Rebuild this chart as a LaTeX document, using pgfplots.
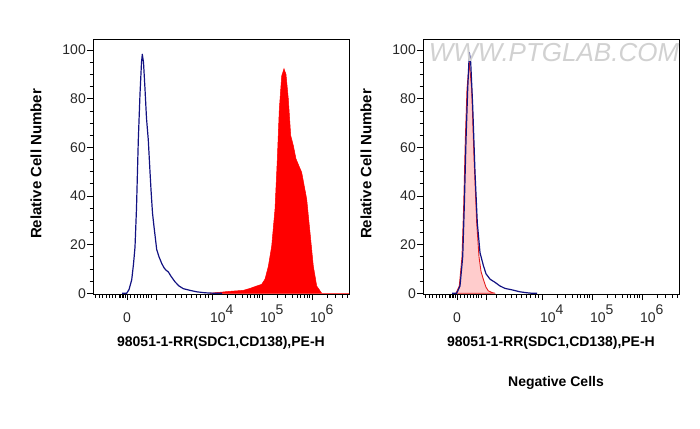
\documentclass[border=0pt]{standalone}
\usepackage{fontspec}
\setmainfont{Liberation Sans}
\usepackage{pgfplots}
\pgfplotsset{compat=1.18}
\definecolor{navyline}{RGB}{18,18,130}
\definecolor{pinkfill}{RGB}{255,204,204}
\definecolor{redline}{RGB}{228,30,30}
\definecolor{ticktext}{RGB}{40,40,40}

% x runs on a display scale: 10^4 at 4, 10^5 at 5, 10^6 at 6, "0" at 2.3
\pgfplotsset{flow/.style={
  width=256pt, height=255pt, scale only axis,
  xmin=1.62, xmax=6.74, ymin=-0.3, ymax=104.6,
  /pgf/number format/assume math mode=true,
  axis line style={line width=0.9pt},
  tick align=outside,
  tick style={line width=0.9pt, black},
  major tick length=6pt, minor tick length=3.5pt,
  xtick={2.3,2.89,4,5,6},
  xticklabels={0,,{\rlap{\hspace{-2pt}10\raisebox{8pt}{4}}},{\rlap{\hspace{-2pt}10\raisebox{8pt}{5}}},{\rlap{\hspace{-2pt}10\raisebox{8pt}{6}}}},
  minor xtick={1.66,1.74,1.814,1.88,1.94,2.0,2.06,2.14,2.17,2.2,2.23,2.26,
    2.36,2.446,2.514,2.574,2.626,2.68,2.726,2.78,
    3.094,3.26,3.394,3.494,3.594,3.68,3.76,3.86,3.926,
    4.301,4.477,4.602,4.699,4.778,4.845,4.903,4.954,
    5.301,5.477,5.602,5.699,5.778,5.845,5.903,5.954,
    6.301,6.477,6.602,6.699},
  ytick={0,20,40,60,80,100}, minor y tick num=3,
  xtick pos=bottom, ytick pos=left,
  xticklabel style={font=\fontsize{14}{14}\selectfont, text=ticktext, text height=10pt, text depth=0pt, inner sep=0pt, yshift=-12pt},
  yticklabel style={font=\fontsize{14}{14}\selectfont, text=ticktext, inner sep=1pt},
  xlabel={98051-1-RR(SDC1,CD138),PE-H},
  ylabel={Relative Cell Number},
  xlabel style={font=\bfseries\fontsize{14}{16}\selectfont, at={(axis description cs:0.5,-0.192)}, anchor=center},
  ylabel style={font=\bfseries\fontsize{15}{17}\selectfont, at={(axis description cs:-0.223,0.51)}, anchor=center},
}}

\begin{document}
\begin{tikzpicture}
\useasboundingbox (0,0) rectangle (700pt,428pt);

% left panel: stained (red) vs. control (blue)
\begin{axis}[flow, at={(93pt,134pt)}, anchor=south west]
\addplot[fill=red, draw=red, line width=0.5pt] coordinates {
(3.96,0) (4.1,0.3) (4.36,0.8) (4.626,1.2) (4.76,2) (4.894,3) (4.994,3.7)
(5.06,5.8) (5.126,11) (5.194,19.4) (5.26,34.6) (5.306,55) (5.346,75.7)
(5.394,89.4) (5.44,92.4) (5.48,90) (5.526,80) (5.574,64.9) (5.626,60.8)
(5.68,55.3) (5.726,53) (5.794,49.7) (5.894,38.7) (5.96,25) (6.026,11.2)
(6.094,3) (6.194,0) (6.74,0)} \closedcycle;
\addplot[draw=navyline, line width=1.2pt, line join=round] coordinates {
(2.2,0) (2.294,0) (2.34,1.5) (2.394,5.5) (2.43,12) (2.46,19) (2.49,35)
(2.526,63) (2.56,82) (2.59,95) (2.606,98.3) (2.63,95) (2.66,84) (2.69,72)
(2.726,63) (2.76,50) (2.78,42.6) (2.81,33) (2.84,27.4) (2.894,18) (2.94,15)
(2.994,12.3) (3.04,10.5) (3.08,9.5) (3.126,8.8) (3.18,7) (3.26,4.7) (3.34,3)
(3.426,1.9) (3.56,1.2) (3.694,0.6) (3.86,0.2) (4.06,0) (4.2,0)};
\end{axis}

% right panel: negative cells
\begin{axis}[flow, at={(423pt,134pt)}, anchor=south west]
\addplot[fill=pinkfill, draw=redline, line width=0.9pt, line join=round] coordinates {
(2.28,0) (2.346,3) (2.4,15) (2.434,36) (2.466,63) (2.5,84) (2.546,95)
(2.594,84) (2.64,56) (2.694,29) (2.74,15) (2.78,9) (2.826,5.8) (2.88,2.5)
(2.926,1) (3.0,0.3) (3.06,0)} \closedcycle;
\addplot[draw=navyline, line width=1.2pt, line join=round] coordinates {
(2.2,0) (2.294,0) (2.36,3) (2.414,15) (2.446,35.8) (2.48,63) (2.514,84)
(2.546,99) (2.574,95) (2.614,77) (2.66,49.8) (2.706,29) (2.76,16.7)
(2.826,11.5) (2.88,8) (2.96,5.8) (3.06,4.5) (3.16,3) (3.26,2) (3.40,1.4)
(3.56,0.6) (3.70,0.2) (3.80,0) (3.9,0)};
\end{axis}

\node[font=\itshape\fontsize{26}{26}\selectfont, text=black!18] at (554pt,375pt) {WWW.PTGLAB.COM};
\node[font=\bfseries\fontsize{14}{16}\selectfont] at (556pt,45pt) {Negative Cells};
\end{tikzpicture}
\end{document}
